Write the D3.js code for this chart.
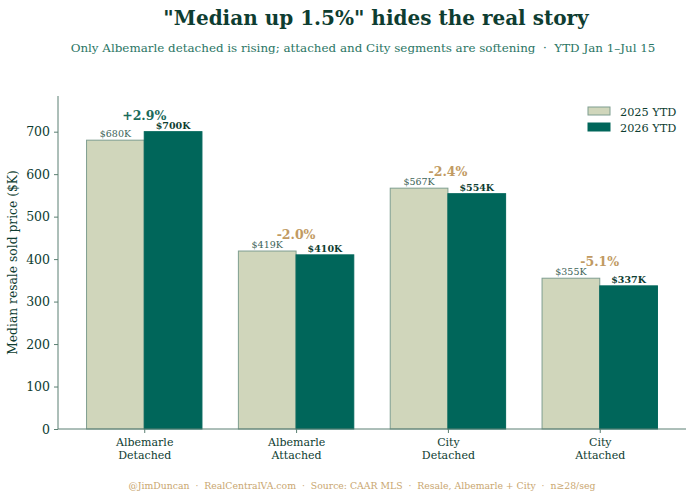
<!DOCTYPE html>
<html>
<head>
    <meta charset="utf-8">
    <title>Median resale price by segment</title>
    <script src="https://d3js.org/d3.v7.min.js"></script>
    <style>
        body { margin: 0; padding: 0; background: #fff; }
        svg text { font-family: "DejaVu Serif", serif; }
        .pre { white-space: pre; }
    </style>
</head>
<body>
    <svg id="svg" width="695" height="500"></svg>

    <script>
        // Data
        const categories = ["Albemarle\nDetached", "Albemarle\nAttached", "City\nDetached", "City\nAttached"];
        const values2025 = [680, 419, 567, 355];
        const values2026 = [700, 410, 554, 337];
        const pctChange = ["+2.9%", "-2.0%", "-2.4%", "-5.1%"];
        const seriesNames = ["2025 YTD", "2026 YTD"];
        const yTicks = [0, 100, 200, 300, 400, 500, 600, 700];

        const colLight = "#d0d6bb";
        const colLightEdge = "#7f9e90";
        const colDark = "#00665a";
        const colText = "#0e3d31";
        const colAxis = "#5b7f72";
        const colUp = "#1a6b5a";
        const colDown = "#c19a62";

        const svg = d3.select("#svg");
        const margin = { top: 96, right: 9, bottom: 71, left: 58 };
        const width = 695 - margin.left - margin.right;
        const height = 500 - margin.top - margin.bottom;

        // Continuous x to mimic matplotlib bar layout (bar width 0.38, 5% margins)
        const barW = 0.38;
        const x = d3.scaleLinear().domain([-0.568, 3.568]).range([0, width]);
        const y = d3.scaleLinear().domain([0, 784]).range([height, 0]);

        const g = svg.append("g")
            .attr("transform", `translate(${margin.left},${margin.top})`);

        // Bars
        g.selectAll(".bar25")
            .data(values2025)
            .enter()
            .append("rect")
                .attr("class", "bar25")
                .attr("x", (d, i) => x(i - barW))
                .attr("y", d => y(d))
                .attr("width", x(barW) - x(0))
                .attr("height", d => height - y(d))
                .attr("fill", colLight)
                .attr("stroke", colLightEdge)
                .attr("stroke-width", 1);

        g.selectAll(".bar26")
            .data(values2026)
            .enter()
            .append("rect")
                .attr("class", "bar26")
                .attr("x", (d, i) => x(i))
                .attr("y", d => y(d))
                .attr("width", x(barW) - x(0))
                .attr("height", d => height - y(d))
                .attr("fill", colDark)
                .attr("stroke", colDark)
                .attr("stroke-width", 1);

        // Value labels
        g.selectAll(".lab25")
            .data(values2025)
            .enter()
            .append("text")
                .attr("x", (d, i) => x(i - barW / 2))
                .attr("y", d => y(d) - 3)
                .attr("text-anchor", "middle")
                .attr("fill", "#3d6458")
                .attr("font-size", 9.5)
                .text(d => `$${d}K`);

        g.selectAll(".lab26")
            .data(values2026)
            .enter()
            .append("text")
                .attr("x", (d, i) => x(i + barW / 2))
                .attr("y", d => y(d) - 3)
                .attr("text-anchor", "middle")
                .attr("fill", colText)
                .attr("font-size", 9.5)
                .attr("font-weight", "bold")
                .text(d => `$${d}K`);

        // Percent change labels
        g.selectAll(".pct")
            .data(pctChange)
            .enter()
            .append("text")
                .attr("x", (d, i) => x(i))
                .attr("y", (d, i) => y(Math.max(values2025[i], values2026[i])) - 12)
                .attr("text-anchor", "middle")
                .attr("fill", d => d.startsWith("+") ? colUp : colDown)
                .attr("font-size", 12.5)
                .attr("font-weight", "bold")
                .text(d => d);

        // Y axis
        const yAxis = g.append("g")
            .call(d3.axisLeft(y).tickValues(yTicks).tickSize(4).tickPadding(4));
        yAxis.select(".domain").attr("stroke", colAxis).attr("d", `M0,${height}V0`);
        yAxis.selectAll(".tick line").attr("stroke", colAxis);
        yAxis.selectAll(".tick text")
            .attr("fill", colText)
            .attr("font-size", 12.5)
            .attr("font-family", "DejaVu Serif, serif");

        // X axis
        const xAxis = g.append("g")
            .attr("transform", `translate(0,${height})`)
            .call(d3.axisBottom(x).tickValues([0, 1, 2, 3]).tickSize(4).tickFormat(""));
        xAxis.select(".domain").attr("stroke", colAxis).attr("d", `M0,0H${width}`);
        xAxis.selectAll(".tick line").attr("stroke", colAxis);

        xAxis.selectAll(".tick")
            .append("text")
                .attr("fill", colText)
                .attr("font-size", 11)
                .attr("text-anchor", "middle")
                .attr("font-family", "DejaVu Serif, serif")
                .selectAll("tspan")
                .data((d, i) => categories[i].split("\n"))
                .enter()
                .append("tspan")
                    .attr("x", 0)
                    .attr("y", (d, j) => 17 + j * 13)
                    .text(d => d);

        // Y axis title
        svg.append("text")
            .attr("transform", `translate(17,${margin.top + height / 2}) rotate(-90)`)
            .attr("text-anchor", "middle")
            .attr("fill", colText)
            .attr("font-size", 12.3)
            .text("Median resale sold price ($K)");

        // Legend
        const legend = svg.append("g").attr("transform", "translate(588,107)");
        const legendColors = [[colLight, colLightEdge], [colDark, colDark]];
        seriesNames.forEach((name, i) => {
            const row = legend.append("g").attr("transform", `translate(0,${i * 16})`);
            row.append("rect")
                .attr("width", 22).attr("height", 8)
                .attr("fill", legendColors[i][0])
                .attr("stroke", legendColors[i][1]);
            row.append("text")
                .attr("x", 32).attr("y", 8.5)
                .attr("fill", colText)
                .attr("font-size", 11.3)
                .text(name);
        });

        // Title, subtitle, footer
        svg.append("text")
            .attr("x", 376).attr("y", 25)
            .attr("text-anchor", "middle")
            .attr("fill", colText)
            .attr("font-size", 20)
            .attr("font-weight", "bold")
            .text("\"Median up 1.5%\" hides the real story");

        svg.append("text")
            .attr("class", "pre")
            .attr("x", 363).attr("y", 52)
            .attr("text-anchor", "middle")
            .attr("fill", "#2a7564")
            .attr("font-size", 11.9)
            .text("Only Albemarle detached is rising; attached and City segments are softening  ·  YTD Jan 1–Jul 15");

        svg.append("text")
            .attr("class", "pre")
            .attr("x", 362).attr("y", 489)
            .attr("text-anchor", "middle")
            .attr("fill", "#c9a66f")
            .attr("font-size", 9.3)
            .text("@JimDuncan  ·  RealCentralVA.com  ·  Source: CAAR MLS  ·  Resale, Albemarle + City  ·  n≥28/seg");
    </script>
</body>
</html>
